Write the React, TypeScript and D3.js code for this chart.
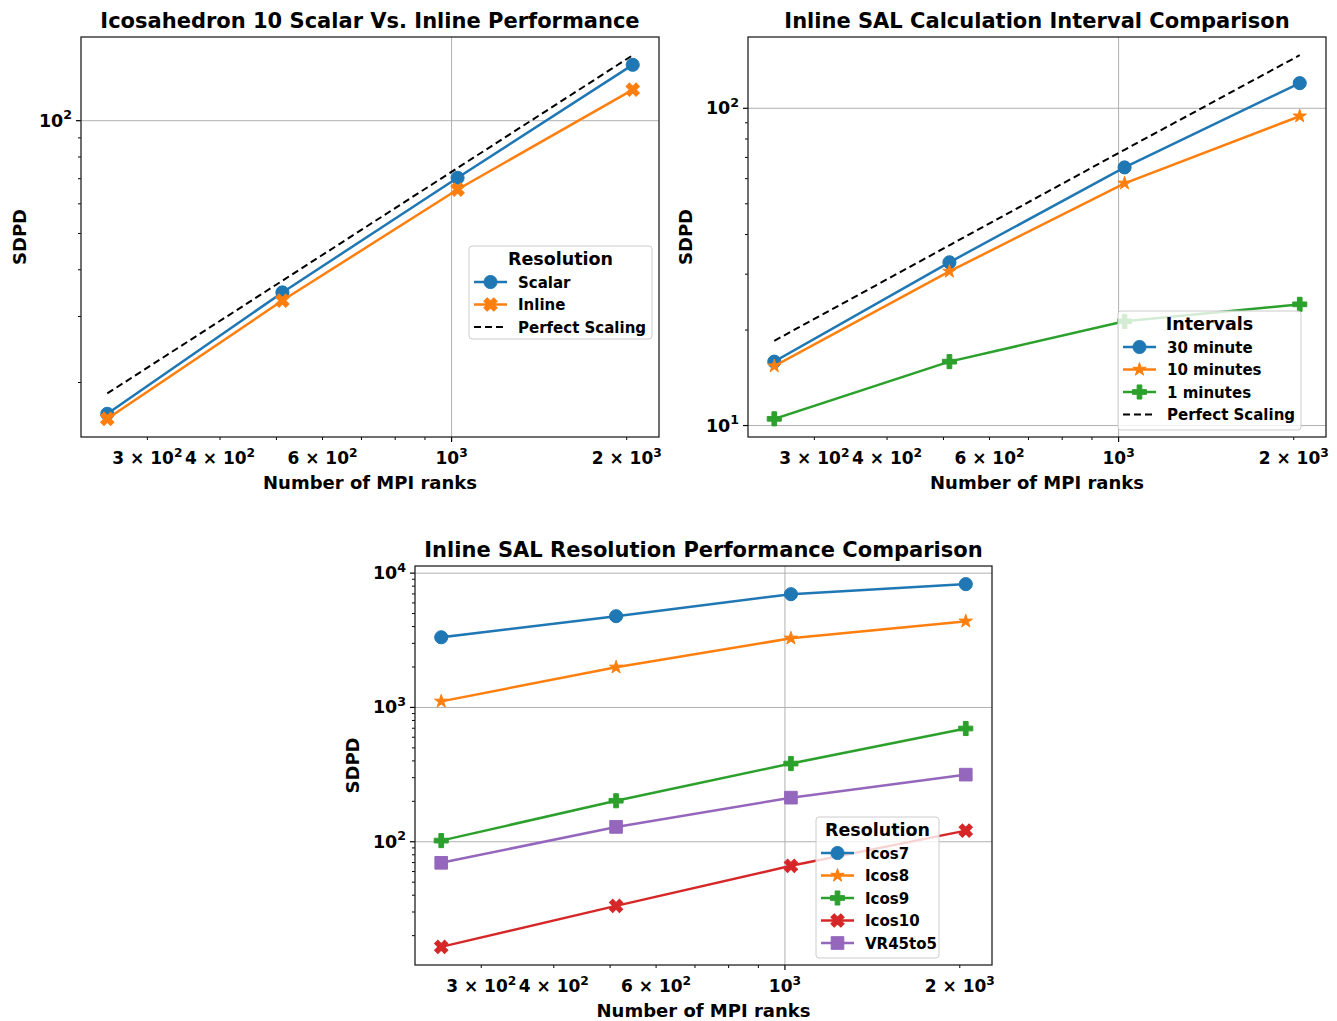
import React from 'react';
import * as d3 from 'd3';

// ---------- data ----------
const ranks = [256, 512, 1024, 2048];

// Chart 1: Icosahedron 10 Scalar vs Inline
const scalarSDPD = [16.5, 34.8, 70.4, 141];
const inlineSDPD = [16.0, 33.1, 65.5, 121];
const perfectScaling1 = [18.7, 37.4, 74.8, 149.6];

// Chart 2: Inline SAL calculation interval comparison
const interval30min = [15.9, 32.7, 65.1, 120];
const interval10min = [15.4, 30.6, 58.0, 94.4];
const interval1min = [10.5, 15.9, 21.3, 24.1];
const perfectScaling2 = [18.5, 37.0, 74.0, 147];

// Chart 3: Inline SAL resolution performance comparison
const icos7 = [3330, 4780, 6970, 8280];
const icos8 = [1110, 1990, 3270, 4380];
const icos9 = [102, 202, 382, 697];
const icos10 = [16.5, 33.3, 66.2, 121];
const vr45to5 = [69.7, 129, 213, 316];

const xTickValues = [300, 400, 600, 1000, 2000];
const xTickLabels = ['3 × 10^2', '4 × 10^2', '6 × 10^2', '10^3', '2 × 10^3'];

const C = {
  blue: '#1f77b4',
  orange: '#ff7f0e',
  green: '#2ca02c',
  red: '#d62728',
  purple: '#9467bd',
};

const FONT = '"DejaVu Sans", "Liberation Sans", sans-serif';

type Marker = 'o' | 'X' | '*' | 'P' | 's';
type Series = { name: string; values: number[]; color: string; marker?: Marker; dashed?: boolean };

function markerPath(m: Marker): { d: string; rot: number } {
  switch (m) {
    case 'o':
      return { d: d3.symbol().type(d3.symbolCircle).size(135)() as string, rot: 0 };
    case 'X':
      return { d: d3.symbol().type(d3.symbolCross).size(110)() as string, rot: 45 };
    case 'P':
      return { d: d3.symbol().type(d3.symbolCross).size(110)() as string, rot: 0 };
    case '*':
      return { d: d3.symbol().type(d3.symbolStar).size(55)() as string, rot: 0 };
    case 's':
      return { d: d3.symbol().type(d3.symbolSquare).size(160)() as string, rot: 0 };
  }
}

function MarkerShape({ m, x, y, color }: { m: Marker; x: number; y: number; color: string }) {
  const { d, rot } = markerPath(m);
  return (
    <path
      d={d}
      transform={`translate(${x},${y}) rotate(${rot})`}
      fill={color}
      stroke={color}
      strokeWidth={1}
      strokeLinejoin="miter"
    />
  );
}

function SupText({ label, x, y, anchor, size }: { label: string; x: number; y: number; anchor: string; size: number }) {
  const [base, exp] = label.split('^');
  return (
    <text x={x} y={y} textAnchor={anchor as any} fontFamily={FONT} fontWeight="bold" fontSize={size} fill="#000">
      <tspan>{base}</tspan>
      {exp !== undefined && (
        <tspan dy={-size * 0.42} fontSize={size * 0.72}>
          {exp}
        </tspan>
      )}
    </text>
  );
}

function logDomain(vals: number[]): [number, number] {
  const lo = Math.log10(d3.min(vals) as number);
  const hi = Math.log10(d3.max(vals) as number);
  const m = (hi - lo) * 0.05;
  return [Math.pow(10, lo - m), Math.pow(10, hi + m)];
}

function minorTicks(domain: [number, number]): number[] {
  const out: number[] = [];
  const d0 = Math.floor(Math.log10(domain[0]));
  const d1 = Math.ceil(Math.log10(domain[1]));
  for (let d = d0; d <= d1; d++) {
    for (let k = 2; k <= 9; k++) {
      const v = k * Math.pow(10, d);
      if (v >= domain[0] && v <= domain[1]) out.push(v);
    }
  }
  return out;
}

function majorTicks(domain: [number, number]): number[] {
  const out: number[] = [];
  const d0 = Math.floor(Math.log10(domain[0]));
  const d1 = Math.ceil(Math.log10(domain[1]));
  for (let d = d0; d <= d1; d++) {
    const v = Math.pow(10, d);
    if (v >= domain[0] && v <= domain[1]) out.push(v);
  }
  return out;
}

type Frame = { x0: number; x1: number; y0: number; y1: number };
type LegendSpec = { title: string; x: number; y: number; w: number; h: number };

function LogChart({
  frame,
  title,
  series,
  legend,
  yLabelX,
}: {
  frame: Frame;
  title: string;
  series: Series[];
  legend: LegendSpec;
  yLabelX: number;
}) {
  const xDom = logDomain(ranks);
  const yDom = logDomain(series.flatMap((s) => s.values));
  const x = d3.scaleLog().domain(xDom).range([frame.x0, frame.x1]);
  const y = d3.scaleLog().domain(yDom).range([frame.y1, frame.y0]);
  const xMajor = majorTicks(xDom);
  const yMajor = majorTicks(yDom);
  const xMinor = minorTicks(xDom);
  const yMinor = minorTicks(yDom);
  const line = d3
    .line<number>()
    .x((_, i) => x(ranks[i]))
    .y((v) => y(v));
  const cx = (frame.x0 + frame.x1) / 2;
  const cy = (frame.y0 + frame.y1) / 2;
  const clipId = `clip-${Math.round(frame.x0)}-${Math.round(frame.y0)}`;

  return (
    <g>
      <defs>
        <clipPath id={clipId}>
          <rect x={frame.x0} y={frame.y0} width={frame.x1 - frame.x0} height={frame.y1 - frame.y0} />
        </clipPath>
      </defs>
      {/* grid */}
      {xMajor.map((v) => (
        <line key={'gx' + v} x1={x(v)} x2={x(v)} y1={frame.y0} y2={frame.y1} stroke="#b0b0b0" strokeWidth={1} />
      ))}
      {yMajor.map((v) => (
        <line key={'gy' + v} x1={frame.x0} x2={frame.x1} y1={y(v)} y2={y(v)} stroke="#b0b0b0" strokeWidth={1} />
      ))}
      {/* series */}
      <g clipPath={`url(#${clipId})`}>
        {series.map((s) => (
          <g key={s.name}>
            <path
              d={line(s.values) as string}
              fill="none"
              stroke={s.color}
              strokeWidth={s.dashed ? 2 : 2.5}
              strokeDasharray={s.dashed ? '7,4' : undefined}
              strokeLinecap={s.dashed ? 'butt' : 'square'}
            />
            {s.marker &&
              s.values.map((v, i) => <MarkerShape key={i} m={s.marker as Marker} x={x(ranks[i])} y={y(v)} color={s.color} />)}
          </g>
        ))}
      </g>
      {/* ticks */}
      {xMinor.map((v) => (
        <line key={'mx' + v} x1={x(v)} x2={x(v)} y1={frame.y1} y2={frame.y1 + 3} stroke="#000" strokeWidth={1} />
      ))}
      {xMajor.map((v) => (
        <line key={'Mx' + v} x1={x(v)} x2={x(v)} y1={frame.y1} y2={frame.y1 + 5} stroke="#000" strokeWidth={1.2} />
      ))}
      {yMinor.map((v) => (
        <line key={'my' + v} x1={frame.x0 - 3} x2={frame.x0} y1={y(v)} y2={y(v)} stroke="#000" strokeWidth={1} />
      ))}
      {yMajor.map((v) => (
        <line key={'My' + v} x1={frame.x0 - 5} x2={frame.x0} y1={y(v)} y2={y(v)} stroke="#000" strokeWidth={1.2} />
      ))}
      {/* frame */}
      <rect
        x={frame.x0}
        y={frame.y0}
        width={frame.x1 - frame.x0}
        height={frame.y1 - frame.y0}
        fill="none"
        stroke="#222"
        strokeWidth={1.3}
      />
      {/* tick labels */}
      {xTickValues.map((v, i) => (
        <SupText key={'xl' + v} label={xTickLabels[i]} x={x(v)} y={frame.y1 + 27} anchor="middle" size={17} />
      ))}
      {yMajor.map((v) => (
        <SupText
          key={'yl' + v}
          label={`10^${Math.round(Math.log10(v))}`}
          x={frame.x0 - 9}
          y={y(v) + 6}
          anchor="end"
          size={17.5}
        />
      ))}
      {/* labels */}
      <text x={cx} y={frame.y0 - 9} textAnchor="middle" fontFamily={FONT} fontWeight="bold" fontSize={21} fill="#000">
        {title}
      </text>
      <text x={cx} y={frame.y1 + 52} textAnchor="middle" fontFamily={FONT} fontWeight="bold" fontSize={18} fill="#000">
        Number of MPI ranks
      </text>
      <text
        transform={`translate(${yLabelX},${cy}) rotate(-90)`}
        textAnchor="middle"
        fontFamily={FONT}
        fontWeight="bold"
        fontSize={18}
        fill="#000"
      >
        SDPD
      </text>
      {/* legend */}
      <g>
        <rect
          x={legend.x}
          y={legend.y}
          width={legend.w}
          height={legend.h}
          rx={3}
          fill="#fff"
          fillOpacity={0.8}
          stroke="#cccccc"
          strokeWidth={1}
        />
        <text
          x={legend.x + legend.w / 2}
          y={legend.y + 19}
          textAnchor="middle"
          fontFamily={FONT}
          fontWeight="bold"
          fontSize={17.5}
          fill="#000"
        >
          {legend.title}
        </text>
        {series.map((s, i) => {
          const ey = legend.y + 36 + i * 22.5;
          const hx0 = legend.x + 5;
          const hx1 = hx0 + 33;
          return (
            <g key={'lg' + s.name}>
              <line
                x1={hx0}
                x2={hx1}
                y1={ey}
                y2={ey}
                stroke={s.color}
                strokeWidth={s.dashed ? 2 : 2.5}
                strokeDasharray={s.dashed ? '7,4' : undefined}
              />
              {s.marker && <MarkerShape m={s.marker} x={(hx0 + hx1) / 2} y={ey} color={s.color} />}
              <text x={hx1 + 11} y={ey + 5.5} fontFamily={FONT} fontWeight="bold" fontSize={15} fill="#000">
                {s.name}
              </text>
            </g>
          );
        })}
      </g>
    </g>
  );
}

export default function App() {
  const series1: Series[] = [
    { name: 'Scalar', values: scalarSDPD, color: C.blue, marker: 'o' },
    { name: 'Inline', values: inlineSDPD, color: C.orange, marker: 'X' },
    { name: 'Perfect Scaling', values: perfectScaling1, color: '#000', dashed: true },
  ];
  const series2: Series[] = [
    { name: '30 minute', values: interval30min, color: C.blue, marker: 'o' },
    { name: '10 minutes', values: interval10min, color: C.orange, marker: '*' },
    { name: '1 minutes', values: interval1min, color: C.green, marker: 'P' },
    { name: 'Perfect Scaling', values: perfectScaling2, color: '#000', dashed: true },
  ];
  const series3: Series[] = [
    { name: 'Icos7', values: icos7, color: C.blue, marker: 'o' },
    { name: 'Icos8', values: icos8, color: C.orange, marker: '*' },
    { name: 'Icos9', values: icos9, color: C.green, marker: 'P' },
    { name: 'Icos10', values: icos10, color: C.red, marker: 'X' },
    { name: 'VR45to5', values: vr45to5, color: C.purple, marker: 's' },
  ];
  return (
    <svg
      width={1337}
      height={1021}
      style={{ position: 'absolute', left: 0, top: 0, background: '#fff' }}
      xmlns="http://www.w3.org/2000/svg"
    >
      <rect x={0} y={0} width={1337} height={1021} fill="#fff" />
      <LogChart
        frame={{ x0: 81, x1: 659, y0: 37, y1: 437 }}
        title="Icosahedron 10 Scalar Vs. Inline Performance"
        series={series1}
        legend={{ title: 'Resolution', x: 469, y: 246, w: 183, h: 93 }}
        yLabelX={26}
      />
      <LogChart
        frame={{ x0: 748, x1: 1326, y0: 37, y1: 437 }}
        title="Inline SAL Calculation Interval Comparison"
        series={series2}
        legend={{ title: 'Intervals', x: 1118, y: 311, w: 183, h: 119 }}
        yLabelX={692}
      />
      <LogChart
        frame={{ x0: 415, x1: 992, y0: 566, y1: 965 }}
        title="Inline SAL Resolution Performance Comparison"
        series={series3}
        legend={{ title: 'Resolution', x: 816, y: 817, w: 123, h: 141 }}
        yLabelX={359}
      />
    </svg>
  );
}
